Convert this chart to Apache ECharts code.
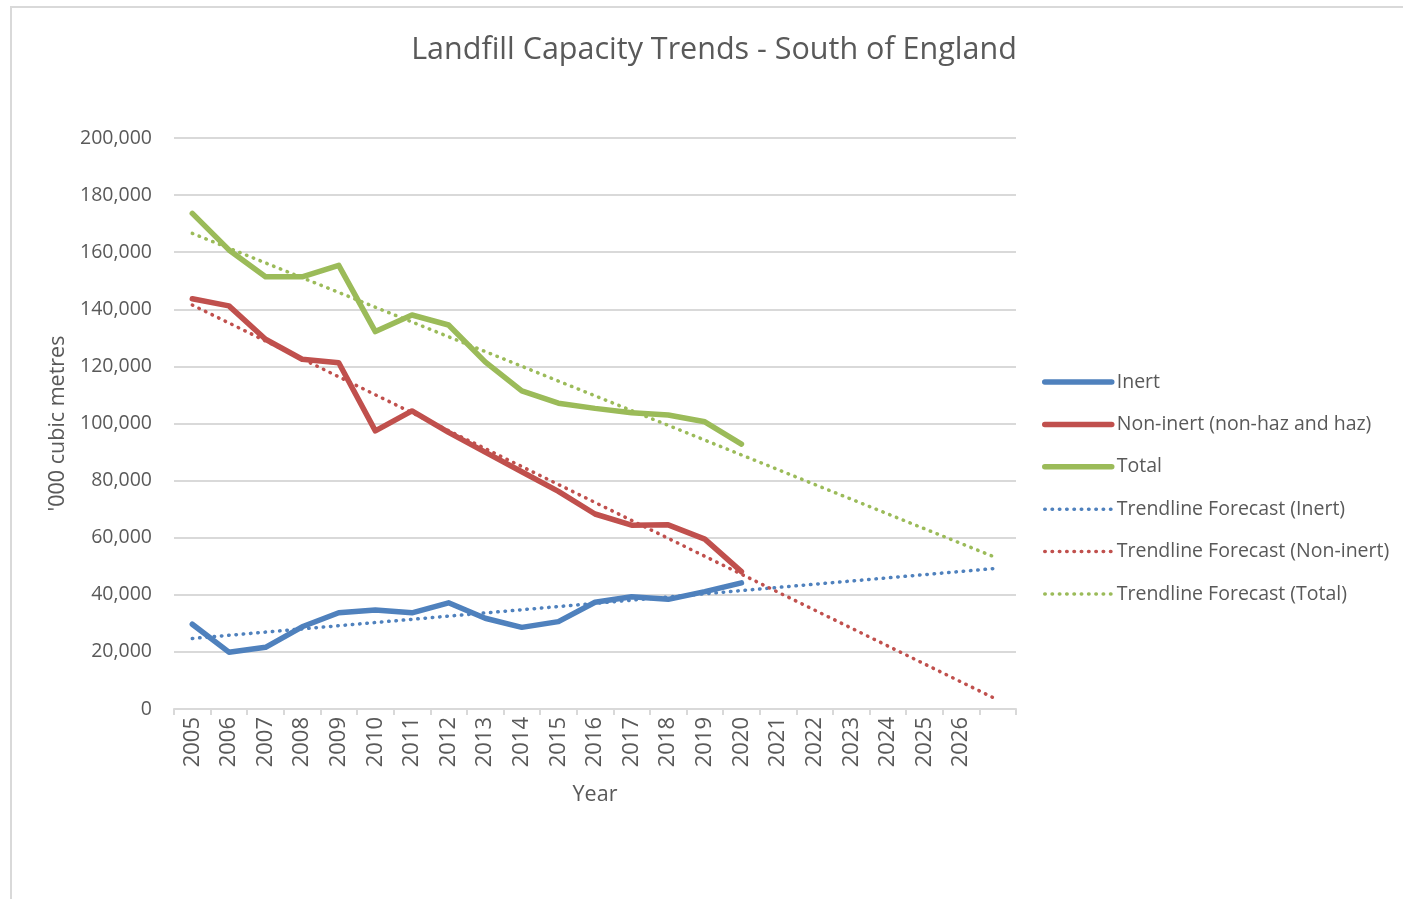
<!DOCTYPE html>
<html>
<head>
<meta charset="utf-8">
<script src="https://cdn.jsdelivr.net/npm/echarts@6/dist/echarts.min.js"></script>
<style>
html,body{margin:0;padding:0;background:#fff;overflow:hidden;}
#frame{position:absolute;left:10px;top:6px;width:1420px;height:920px;border-left:2px solid #d9d9d9;border-top:2px solid #d9d9d9;box-sizing:border-box;}
#chart{position:absolute;left:0;top:0;width:1403px;height:899px;}
</style>
</head>
<body>
<div id="frame"></div>
<div id="chart"></div>
<script>
// Categories (last slot is the unlabeled forecast end point)
const years = ['2005','2006','2007','2008','2009','2010','2011','2012','2013','2014','2015','2016','2017','2018','2019','2020','2021','2022','2023','2024','2025','2026',''];
const yTicks = [0,20000,40000,60000,80000,100000,120000,140000,160000,180000,200000];

// Observed values ('000 cubic metres), 2005-2020
const inert    = [29700,19900,21600,28800,33700,34700,33700,37200,31800,28600,30600,37400,39300,38400,41100,44200];
const nonInert = [143700,141200,129500,122500,121300,97400,104400,96900,90000,83100,76200,68300,64400,64500,59500,48100];
const total    = [173600,160800,151400,151400,155400,132200,138000,134500,121600,111400,107100,105300,103800,103000,100600,92800];

// Trendline forecast end points: [category index, value]
const trendInert    = [[0,24700],[22,49300]];
const trendNonInert = [[0,141500],[22,3200]];
const trendTotal    = [[0,166600],[22,52800]];

const BLUE='#4F81BD', RED='#C0504D', GREEN='#9BBB59', TXT='#595959', GRID='#d9d9d9';
const FONT='"Open Sans", "Noto Sans", sans-serif';
const DOTS=[0.5,6.8];

function solid(name,data,color){
  return {name,type:'line',data,symbol:'none',smooth:false,
    lineStyle:{color,width:5.5,cap:'round',join:'round'},itemStyle:{color},z:2};
}
function dotted(name,data,color){
  return {name,type:'line',data,symbol:'none',smooth:false,
    lineStyle:{color,width:3.5,type:DOTS,cap:'round'},itemStyle:{color},z:3};
}
function legSolid(name){ return {name,itemStyle:{opacity:0},lineStyle:{width:5.5,cap:'round'}}; }
function legDot(name){ return {name,itemStyle:{opacity:0},lineStyle:{width:3.5,type:DOTS,cap:'round'}}; }

const chart = echarts.init(document.getElementById('chart'),null,{renderer:'canvas'});
chart.setOption({
  backgroundColor:'transparent',
  animation:false,
  textStyle:{fontFamily:FONT,color:TXT},
  title:{text:'Landfill Capacity Trends - South of England',left:709,top:30,textAlign:'center',
    textStyle:{fontFamily:FONT,fontSize:30.5,fontWeight:'normal',color:TXT}},
  legend:{orient:'vertical',left:1037,top:367,itemWidth:67,itemHeight:14,itemGap:22.4,
    textStyle:{fontFamily:FONT,fontSize:19.5,color:TXT,lineHeight:20},
    data:[legSolid('Inert'),legSolid('Non-inert (non-haz and haz)'),legSolid('Total'),
          legDot('Trendline Forecast (Inert)'),legDot('Trendline Forecast (Non-inert)'),legDot('Trendline Forecast (Total)')]},
  grid:{left:174,right:387,top:138,bottom:190,containLabel:false},
  xAxis:{type:'category',data:years,boundaryGap:true,
    name:'Year',nameLocation:'middle',nameGap:75,
    nameTextStyle:{fontFamily:FONT,fontSize:21.5,color:TXT},
    axisLine:{lineStyle:{color:GRID,width:2}},
    axisTick:{show:true,alignWithLabel:false,length:6,lineStyle:{color:GRID,width:2},interval:0},
    axisLabel:{rotate:90,interval:0,margin:8,fontFamily:FONT,fontSize:22,color:TXT},
    splitLine:{show:false}},
  yAxis:{type:'value',min:yTicks[0],max:yTicks[yTicks.length-1],interval:yTicks[1]-yTicks[0],
    name:"'000 cubic metres",nameLocation:'middle',nameGap:104,
    nameTextStyle:{fontFamily:FONT,fontSize:21.5,color:TXT},
    axisLine:{show:false},axisTick:{show:false},
    axisLabel:{margin:22,fontFamily:FONT,fontSize:19.5,color:TXT,formatter:v=>v.toLocaleString('en-US')},
    splitLine:{lineStyle:{color:GRID,width:2}}},
  series:[
    solid('Inert',inert,BLUE),
    solid('Non-inert (non-haz and haz)',nonInert,RED),
    solid('Total',total,GREEN),
    dotted('Trendline Forecast (Inert)',trendInert,BLUE),
    dotted('Trendline Forecast (Non-inert)',trendNonInert,RED),
    dotted('Trendline Forecast (Total)',trendTotal,GREEN)
  ]
});
</script>
</body>
</html>
